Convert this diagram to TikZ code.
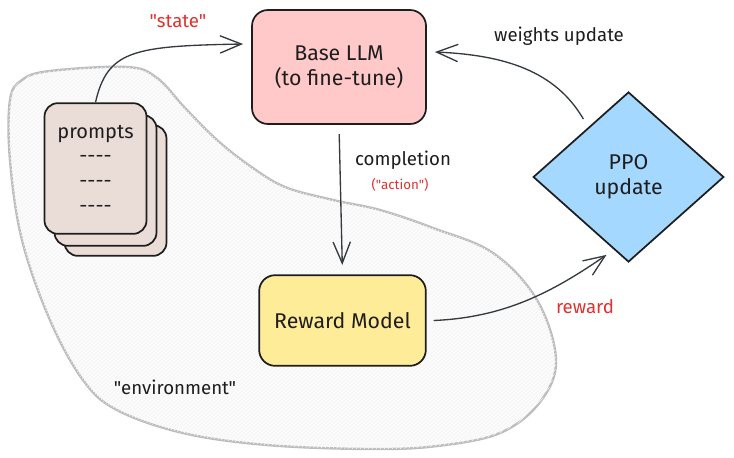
\documentclass[tikz,border=0pt]{standalone}
\usepackage{fontspec}
\setmainfont{Fira Sans}[Ligatures=TeXOff]
\usetikzlibrary{arrows.meta,shapes.geometric,patterns,calc}
\definecolor{ink}{HTML}{1E1E1E}
\definecolor{redtxt}{HTML}{E03131}
\definecolor{llmfill}{HTML}{FFC9C9}
\definecolor{cardfill}{HTML}{EADDD7}
\definecolor{rmfill}{HTML}{FFEC99}
\definecolor{ppofill}{HTML}{A5D8FF}
\definecolor{envline}{HTML}{BDBDBD}
\definecolor{arrowc}{HTML}{343A40}
\begin{document}
\begin{tikzpicture}[x=0.75pt,y=-0.75pt,
  boxtext/.style={font=\fontsize{16}{19}\selectfont, text=ink, align=center},
  card/.style={draw=ink, line width=1.3pt, fill=cardfill, rounded corners=10pt,
    minimum width=76.5pt, minimum height=98pt, inner sep=0pt},
  llmbox/.style={boxtext, draw=ink, line width=1.3pt, fill=llmfill, rounded corners=12pt,
    minimum width=130.5pt, minimum height=85.5pt, inner sep=0pt},
  rmbox/.style={boxtext, draw=ink, line width=1.3pt, fill=rmfill, rounded corners=12pt,
    minimum width=125pt, minimum height=68pt, inner sep=0pt},
  ppobox/.style={boxtext, diamond, draw=ink, line width=1.3pt, fill=ppofill,
    minimum width=143pt, minimum height=127.5pt, inner sep=0pt},
  lbl/.style={font=\fontsize{14}{17}\selectfont, text=ink},
  redlbl/.style={font=\fontsize{14}{17}\selectfont, text=redtxt},
  arr/.style={draw=arrowc, line width=1pt,
    -{Straight Barb[length=16pt,width=13pt,line width=1pt]}},
]
\useasboundingbox (0,0) rectangle (734,457);

% environment blob
\path[draw=envline, line width=1.8pt, fill=black!1.5,
      postaction={pattern=north east lines, pattern color=black!4}]
  plot[smooth cycle, tension=0.6] coordinates {
   (10,100) (22,80) (50,71) (127,67) (157,78) (185,108) (217,140) (250,166)
   (285,187) (333,200) (380,210) (433,228) (493,253) (537,300) (556,360)
   (540,402) (500,433) (437,446) (370,449) (267,445) (183,433) (117,410)
   (83,380) (50,320) (22,240) (10,160)};

% prompt cards
\node[card] (p3) at (115.5,190.5) {};
\node[card] (p2) at (105.5,180.5) {};
\node[card, boxtext, font=\fontsize{15}{18.5}\selectfont] (p1) at (95.5,168.5)
  {prompts\\----\\----\\----};

% main nodes
\node[llmbox] (llm) at (339,67) {Base LLM\\(to fine-tune)};
\node[rmbox] (rm) at (342.5,320.5) {Reward Model};
\node[ppobox] (ppo) at (628.5,177) {PPO\\update};

% connectors
\draw[arr] (p1.north) .. controls +(12,-52) and +(-110,2) .. ($(llm.west)+(-8,-23)$);
\draw[arr, shorten <=7pt, shorten >=7pt] (llm.south) -- (rm.north);
\draw[arr] ($(rm.east)+(7,0)$) .. controls +(70,-3) and +(-55,38) .. ($(ppo.south)+(-22,-8)$);
\draw[arr] ($(ppo.north west)+(3,-15)$) .. controls +(-28,-48) and +(70,3) .. ($(llm.east)+(8,-15)$);

% labels
\node[redlbl] (lstate) at (178,21) {"state"};
\node[lbl] (lcomp) at (403,160) {completion};
\node[font=\fontsize{10}{12}\selectfont, text=redtxt] (lact) at (400,185) {("action")};
\node[redlbl] (lrew) at (585,307) {reward};
\node[lbl] (lwu) at (559,36) {weights update};
\node[lbl] (lenv) at (175,387) {"environment"};
\end{tikzpicture}
\end{document}
